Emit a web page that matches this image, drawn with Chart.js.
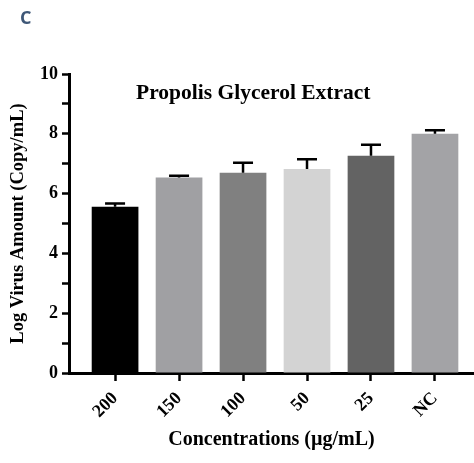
<!DOCTYPE html>
<html>
<head>
<meta charset="utf-8">
<script src="https://cdn.jsdelivr.net/npm/chart.js@4/dist/chart.umd.min.js"></script>
<style>
  html, body { margin: 0; padding: 0; background: #fff; }
  #wrap { position: relative; width: 474px; height: 463px; }
  #panel { position: absolute; left: 20px; top: 5px; font: bold 18px "Open Sans", sans-serif; color: #3e5777; }
</style>
</head>
<body>
<div id="wrap">
  <canvas id="chart" width="474" height="463"></canvas>
  <div id="panel">C</div>
</div>
<script>
// values
let concentrations = ['200', '150', '100', '50', '25', 'NC'];
let logVirus = [5.56, 6.54, 6.70, 6.82, 7.27, 8.00];
let errors = [0.11, 0.06, 0.33, 0.33, 0.36, 0.12];
let barColors = ['#000000', '#a0a0a3', '#808080', '#d3d3d3', '#636363', '#a3a3a6'];

let serif = '"Liberation Serif", "Times New Roman", serif';

// upper error bars, drawn from the bar top through the y scale
let errorBars = {
  id: 'errorBars',
  afterDatasetsDraw(chart) {
    let ctx = chart.ctx;
    let y = chart.scales.y;
    let meta = chart.getDatasetMeta(0);
    ctx.save();
    ctx.strokeStyle = '#000';
    ctx.lineWidth = 2.5;
    meta.data.forEach((bar, i) => {
      let top = y.getPixelForValue(logVirus[i] + errors[i]);
      let base = y.getPixelForValue(logVirus[i]);
      ctx.beginPath();
      ctx.moveTo(bar.x, base);
      ctx.lineTo(bar.x, top);
      ctx.moveTo(bar.x - 10, top);
      ctx.lineTo(bar.x + 10, top);
      ctx.stroke();
    });
    ctx.restore();
  }
};

// title sits inside the plot area
let innerTitle = {
  id: 'innerTitle',
  afterDraw(chart) {
    let ctx = chart.ctx;
    let area = chart.chartArea;
    ctx.save();
    ctx.font = 'bold 21.5px ' + serif;
    ctx.fillStyle = '#000';
    ctx.textAlign = 'center';
    ctx.textBaseline = 'middle';
    ctx.fillText('Propolis Glycerol Extract', area.left + (area.right - area.left) * 0.455, area.top + 19);
    ctx.restore();
  }
};

new Chart(document.getElementById('chart'), {
  type: 'bar',
  data: {
    datasets: [{
      data: logVirus.map((v, i) => ({ x: i, y: v })),
      backgroundColor: barColors,
      borderWidth: 0,
      barPercentage: 0.73,
      categoryPercentage: 1
    }]
  },
  options: {
    responsive: false,
    animation: false,
    layout: { padding: { top: 74, right: 0, left: 0, bottom: 0 } },
    plugins: {
      legend: { display: false },
      tooltip: { enabled: false }
    },
    scales: {
      x: {
        type: 'linear',
        offset: false,
        min: -0.72,
        max: 5.61,
        afterBuildTicks(scale) {
          scale.ticks = concentrations.map((c, i) => ({ value: i }));
        },
        afterFit(scale) {
          scale.height = 90;
        },
        border: { color: '#000', width: 3 },
        grid: { offset: false, drawOnChartArea: false, tickLength: 8, tickColor: '#000', tickWidth: 2.5 },
        ticks: {
          autoSkip: false,
          maxRotation: 45,
          minRotation: 45,
          padding: 7,
          color: '#000',
          font: { family: serif, size: 18, weight: 'bold' },
          callback: (v) => concentrations[v]
        },
        title: {
          display: true,
          text: 'Concentrations (µg/mL)',
          color: '#000',
          font: { family: serif, size: 20, weight: 'bold' },
          padding: { top: 0, bottom: 11 }
        }
      },
      y: {
        min: 0,
        max: 10,
        afterFit(scale) {
          scale.width = 69;
        },
        border: { color: '#000', width: 3 },
        grid: { drawOnChartArea: false, tickLength: 7, tickColor: '#000', tickWidth: 2.5 },
        ticks: {
          stepSize: 1,
          padding: 4,
          color: '#000',
          font: { family: serif, size: 18, weight: 'bold' },
          callback: (v) => (v % 2 === 0 ? String(v) : '')
        },
        title: {
          display: true,
          text: 'Log Virus Amount (Copy/mL)',
          color: '#000',
          font: { family: serif, size: 18.5, weight: 'bold' },
          padding: { top: 7, bottom: 0 }
        }
      }
    }
  },
  plugins: [errorBars, innerTitle]
});
</script>
</body>
</html>
